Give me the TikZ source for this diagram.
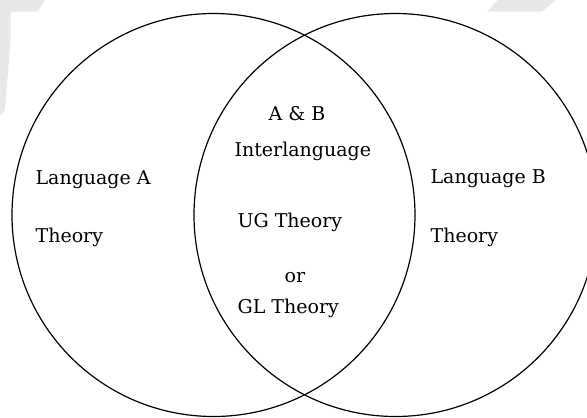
\documentclass[tikz,border=0pt]{standalone}
\usepackage{fontspec}
\setmainfont{DejaVu Serif}
\begin{document}
\begin{tikzpicture}[x=1pt, y=-1pt, line width=1.2pt,
  txt/.style={font=\fontsize{19}{23}\selectfont, inner sep=0pt}]
  \useasboundingbox (0,0) rectangle (587,418);
  \coordinate (CA) at (213.5,215); \coordinate (CB) at (395.5,215);
  % 배경 흔적(회색)
  \fill[black!9] (0,0) -- (45,0) -- (38,11.5) -- (10.5,11.5) -- (10.5,40) -- (5,110) -- (0,116) -- cycle;
  \fill[black!9] (498,0) -- (556,0) -- (542,11.5) -- (487,11.5) -- cycle;
  % 두 원
  \draw (CA) circle[radius=201.5];
  \draw (CB) circle[radius=201.5];
  % 왼쪽
  \node[txt, anchor=base west] (langA) at (35,184) {Language A};
  \node[txt, anchor=base west] (theoryA) at (35,242) {Theory};
  % 가운데(교집합)
  \node[txt, anchor=base] (ab) at (297,120) {A \& B};
  \node[txt, anchor=base west] (inter) at (234,156) {Interlanguage};
  \node[txt, anchor=base west] (ug) at (237,227) {UG Theory};
  \node[txt, anchor=base] (orword) at (295,282) {or};
  \node[txt, anchor=base west] (gl) at (237,313) {GL Theory};
  % 오른쪽
  \node[txt, anchor=base west] (langB) at (430,183) {Language B};
  \node[txt, anchor=base west] (theoryB) at (430,242) {Theory};
\end{tikzpicture}
\end{document}
